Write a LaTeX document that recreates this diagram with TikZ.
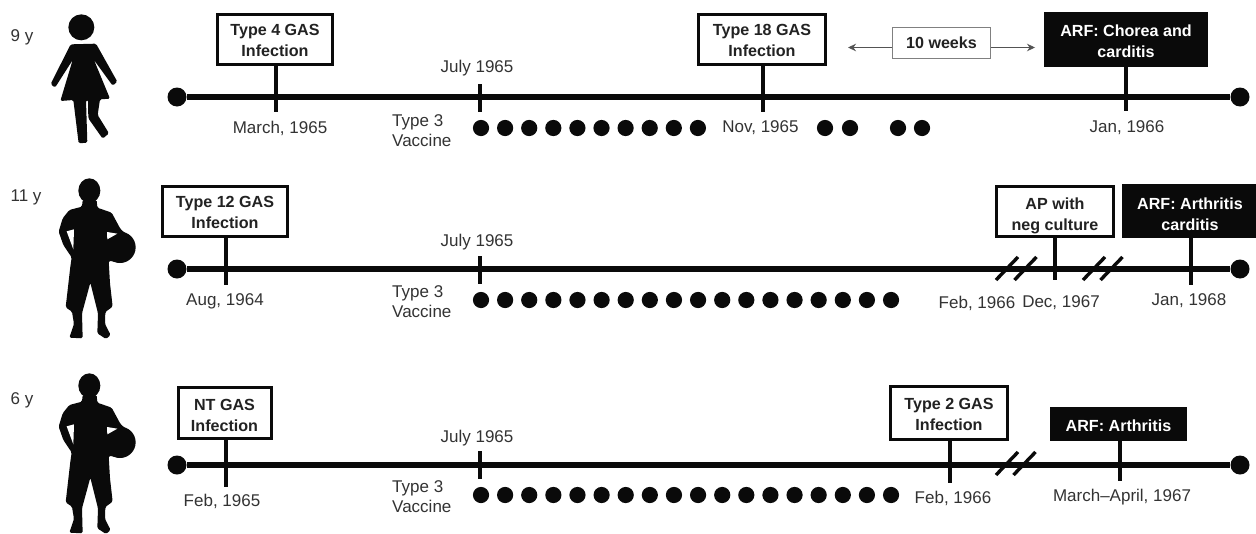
\documentclass[tikz,border=0pt]{standalone}
\usepackage{fontspec}
\setmainfont{Liberation Sans}
\usepackage{xcolor}
\usepackage{tikz}
\usetikzlibrary{arrows.meta, calc}
\definecolor{tlBlack}{HTML}{0A0A0A}
\definecolor{tlText}{HTML}{333333}
\definecolor{tlHead}{HTML}{222222}
\definecolor{tlThin}{HTML}{808080}
\newcommand{\boxtop}[1]{\rule{0pt}{#1pt}}
\tikzset{
  whitebox/.style={
    rectangle, draw=tlBlack, line width=3pt, fill=white,
    inner sep=0pt, align=center, text=tlHead,
    font=\fontsize{16.1}{21}\selectfont\bfseries
  },
  blackbox/.style={
    rectangle, fill=tlBlack, inner sep=0pt, align=center, text=white,
    font=\fontsize{16.1}{21}\selectfont\bfseries
  },
  spanbox/.style={
    rectangle, draw=tlThin, line width=1pt, fill=white,
    inner sep=0pt, text=tlHead, font=\fontsize{16.1}{21}\selectfont\bfseries
  },
  datelabel/.style={
    inner sep=0pt, align=left, text=tlText,
    font=\fontsize{17}{20}\selectfont
  },
  enddot/.style={circle, fill=tlBlack, minimum size=19pt, inner sep=0pt},
  vaxdot/.style={circle, fill=tlBlack, minimum size=16.2pt, inner sep=0pt},
  timeline/.style={draw=tlBlack, line width=6pt},
  tick/.style={draw=tlBlack, line width=3.8pt},
  slash/.style={draw=tlBlack, line width=3.4pt},
  spanarrow/.style={-{Stealth[length=8pt, width=7.5pt]}, draw=tlBlack!70, line width=0.9pt},
  girl/.pic={
    \fill[tlBlack] (244,82) circle (39pt);
    \fill[tlBlack, rounded corners=1.5pt] (212,133) -- (288,131) -- (352,245) -- (338,257) -- (282,180)
      -- (330,296) -- (300,298) -- (293,345) -- (327,400) -- (308,416) -- (265,355) -- (264,300)
      -- (258,300) -- (262,428) -- (236,430) -- (220,300) -- (181,303) -- (218,180) -- (165,263) -- (152,252) -- cycle;
  },
  boy/.pic={
    \fill[tlBlack] (268,62) ellipse (33pt and 37pt);
    \fill[tlBlack] (360,232) circle (47pt);
    \fill[tlBlack, rounded corners=1.5pt] (248,90) -- (290,90) -- (292,113) -- (335,128) -- (362,178) -- (398,208)
      -- (358,278) -- (326,272)
      -- (330,340) -- (338,410) -- (316,426) -- (315,462) -- (332,495) -- (318,507) -- (292,490)
      -- (294,430) -- (271,338) -- (246,430) -- (248,505) -- (208,503) -- (222,462) -- (216,425)
      -- (197,412) -- (211,290) -- (215,262) -- (190,225) -- (176,185) -- (188,145) -- (208,120) -- (246,110) -- cycle;
    \fill[white] (200,184) -- (222,178) -- (220,238) -- cycle;
    \fill[white] (321,186) -- (352,191) -- (322,208) -- cycle;
  }
}

\begin{document}
\begin{tikzpicture}[x=1pt, y=-1pt]
  \useasboundingbox (0,0) rectangle (1256,533);
  \fill[white] (0,0) rectangle (1256,533);

  % figures
  \pic[scale=1/3] at (0,0) {girl};
  \pic[scale=1/3] at (0,170) {boy};
  \pic[scale=1/3] at (0,365) {boy};
  \node[datelabel] (ageA) at (22,37) {9 y};
  \node[datelabel] (ageB) at (26,197) {11 y};
  \node[datelabel] (ageC) at (22,400) {6 y};

  % first row
  \node[enddot] (startA) at (177,97) {};
  \node[enddot] (stopA) at (1240,97) {};
  \draw[timeline] (startA) -- (stopA);
  \node[whitebox, minimum width=115pt, minimum height=50pt] (typeFour) at (275,39.5) {\boxtop{14}Type 4 GAS\\Infection};
  \node[whitebox, minimum width=127pt, minimum height=50pt] (typeEighteen) at (762,39.5) {\boxtop{14}Type 18 GAS\\Infection};
  \node[spanbox, minimum width=98pt, minimum height=31pt] (tenWeeks) at (941.5,43) {10 weeks};
  \node[blackbox, minimum width=164pt, minimum height=55pt] (arfChorea) at (1126,39.5) {\boxtop{16}ARF: Chorea and\\carditis};
  \coordinate (tenLeft) at (848,47.5);
  \coordinate (tenRight) at (1035,47.5);
  \draw[spanarrow] (tenWeeks.west |- tenLeft) -- (tenLeft);
  \draw[spanarrow] (tenWeeks.east |- tenRight) -- (tenRight);
  \coordinate (marchEnd) at (276,112);
  \coordinate (novEnd) at (763,112);
  \coordinate (janEnd) at (1126,111);
  \coordinate (julyTopA) at (480,84);
  \coordinate (julyEndA) at (480,112);
  \draw[tick] (typeFour.south -| marchEnd) -- (marchEnd);
  \draw[tick] (typeEighteen.south -| novEnd) -- (novEnd);
  \draw[tick] (arfChorea.south -| janEnd) -- (janEnd);
  \draw[tick] (julyTopA) -- (julyEndA);
  \node[datelabel] (julyA) at (477,68) {July 1965};
  \node[datelabel] (marchA) at (280,128) {March, 1965};
  \node[datelabel] (novA) at (760.5,128) {Nov, 1965};
  \node[datelabel] (janA) at (1127,128) {Jan, 1966};
  \node[datelabel, anchor=west] (vaxA) at (392,131) {Type 3\\Vaccine};
  \foreach \i in {0,...,9} {
    \node[vaxdot] (dotA\i) at ({481+\i*24.1},128) {};
  }
  \foreach \x in {825,850,898,922} {
    \node[vaxdot] (dotA\x) at (\x,128) {};
  }

  % second row
  \node[enddot] (startB) at (177,269) {};
  \node[enddot] (stopB) at (1240,269) {};
  \draw[timeline] (startB) -- (stopB);
  \node[whitebox, minimum width=125pt, minimum height=50pt] (typeTwelve) at (225,211.5) {\boxtop{14}Type 12 GAS\\Infection};
  \node[whitebox, minimum width=117pt, minimum height=50pt] (apNeg) at (1055,211.5) {\boxtop{21}AP with\\neg culture};
  \node[blackbox, minimum width=136pt, minimum height=54pt] (arfCarditis) at (1190,211) {\boxtop{18}ARF: Arthritis\\carditis};
  \coordinate (augEnd) at (226,285);
  \coordinate (decEnd) at (1055,280);
  \coordinate (janEndB) at (1191,285);
  \coordinate (julyTopB) at (480,256);
  \coordinate (julyEndB) at (480,284);
  \draw[tick] (typeTwelve.south -| augEnd) -- (augEnd);
  \draw[tick] (apNeg.south -| decEnd) -- (decEnd);
  \draw[tick] (arfCarditis.south -| janEndB) -- (janEndB);
  \draw[tick] (julyTopB) -- (julyEndB);
  \foreach \x in {1007,1025.5,1094,1111.5} {
    \draw[slash] (\x,268.5) ++(-11,11.5) -- ++(22,-23);
  }
  \node[datelabel] (julyB) at (477,242) {July 1965};
  \node[datelabel] (augB) at (225,301) {Aug, 1964};
  \node[datelabel] (febB) at (977,303) {Feb, 1966};
  \node[datelabel] (decB) at (1061,303) {Dec, 1967};
  \node[datelabel] (janB) at (1189,301) {Jan, 1968};
  \node[datelabel, anchor=west] (vaxB) at (392,302) {Type 3\\Vaccine};
  \foreach \i in {0,...,17} {
    \node[vaxdot] (dotB\i) at ({481+\i*24.12},300) {};
  }

  % third row
  \node[enddot] (startC) at (177,465) {};
  \node[enddot] (stopC) at (1240,465) {};
  \draw[timeline] (startC) -- (stopC);
  \node[whitebox, minimum width=93pt, minimum height=51pt] (ntGas) at (224.5,413) {\boxtop{16}NT GAS\\Infection};
  \node[whitebox, minimum width=117pt, minimum height=53pt] (typeTwo) at (949,413) {\boxtop{15}Type 2 GAS\\Infection};
  \node[blackbox, minimum width=137pt, minimum height=34pt] (arfArthritis) at (1118.5,424) {\boxtop{15}ARF: Arthritis};
  \coordinate (febEndC) at (226,487);
  \coordinate (febEndD) at (950,483);
  \coordinate (marEnd) at (1120,481);
  \coordinate (julyTopC) at (480,451);
  \coordinate (julyEndC) at (480,479);
  \draw[tick] (ntGas.south -| febEndC) -- (febEndC);
  \draw[tick] (typeTwo.south -| febEndD) -- (febEndD);
  \draw[tick] (arfArthritis.south -| marEnd) -- (marEnd);
  \draw[tick] (julyTopC) -- (julyEndC);
  \foreach \x in {1007,1024.5} {
    \draw[slash] (\x,463.5) ++(-11,11.5) -- ++(22,-23);
  }
  \node[datelabel] (julyC) at (477,438) {July 1965};
  \node[datelabel] (febC) at (222,501) {Feb, 1965};
  \node[datelabel] (febD) at (953,498) {Feb, 1966};
  \node[datelabel] (marC) at (1122,497) {March--April, 1967};
  \node[datelabel, anchor=west] (vaxC) at (392,497) {Type 3\\Vaccine};
  \foreach \i in {0,...,17} {
    \node[vaxdot] (dotC\i) at ({481+\i*24.12},495) {};
  }
\end{tikzpicture}
\end{document}
